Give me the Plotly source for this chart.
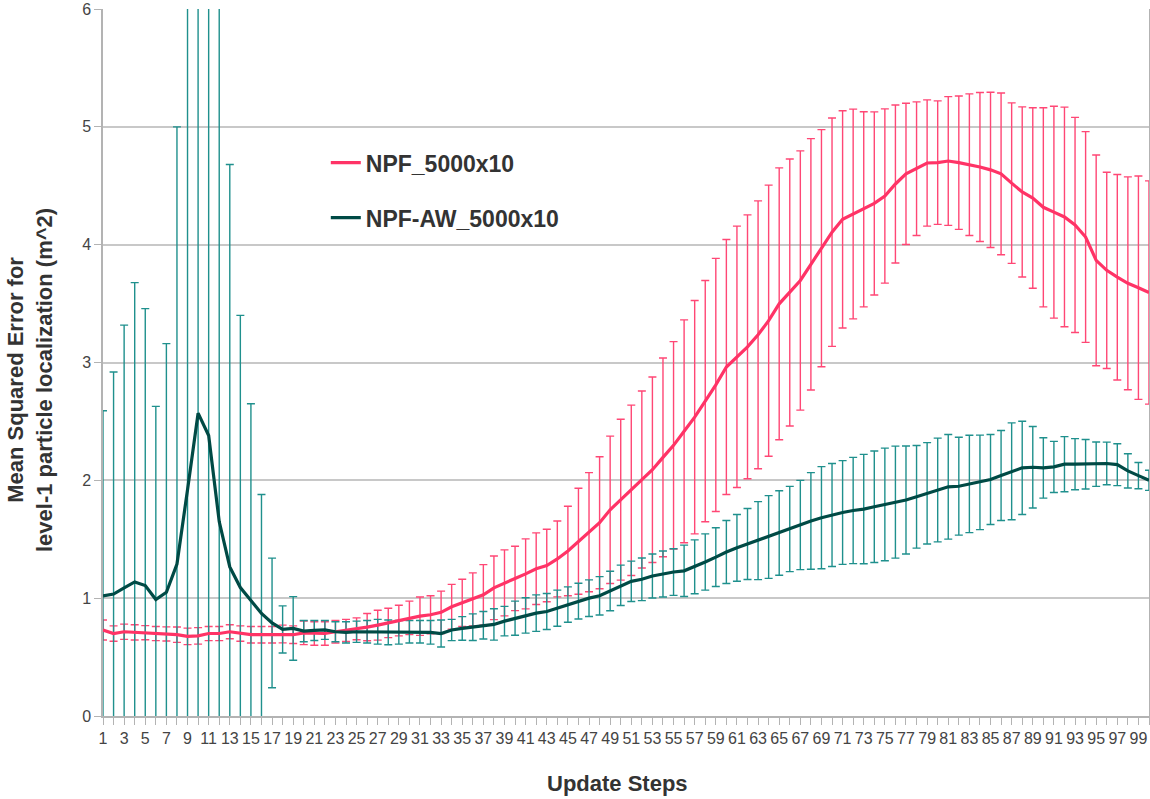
import plotly.graph_objects as go

steps = list(range(1, 101))

npf_mean = [0.73, 0.70, 0.715, 0.71, 0.707, 0.70, 0.696, 0.69, 0.676, 0.68,
            0.70, 0.70, 0.715, 0.70, 0.69, 0.69, 0.69, 0.696, 0.69, 0.706,
            0.70, 0.70, 0.715, 0.726, 0.74, 0.754, 0.771, 0.79, 0.81, 0.833,
            0.847, 0.859, 0.88, 0.927, 0.96, 0.99, 1.028, 1.088, 1.13, 1.167,
            1.206, 1.25, 1.277, 1.333, 1.40, 1.483, 1.56, 1.64, 1.75, 1.836,
            1.915, 2.007, 2.09, 2.195, 2.297, 2.416, 2.536, 2.672, 2.81, 2.962,
            3.048, 3.133, 3.235, 3.355, 3.498, 3.594, 3.696, 3.833, 3.97, 4.106,
            4.215, 4.26, 4.30, 4.35, 4.413, 4.515, 4.601, 4.645, 4.693, 4.696,
            4.71, 4.696, 4.679, 4.659, 4.635, 4.601, 4.522, 4.447, 4.396, 4.317,
            4.276, 4.235, 4.167, 4.065, 3.867, 3.782, 3.724, 3.672, 3.635, 3.594]

npf_std = [0.085, 0.065, 0.065, 0.065, 0.06, 0.06, 0.06, 0.065, 0.07, 0.07,
           0.06, 0.06, 0.06, 0.065, 0.07, 0.07, 0.07, 0.075, 0.075, 0.10,
           0.10, 0.10, 0.095, 0.094, 0.093, 0.116, 0.127, 0.125, 0.13, 0.142,
           0.163, 0.161, 0.18, 0.19, 0.2, 0.225, 0.257, 0.27, 0.28, 0.273,
           0.297, 0.304, 0.308, 0.322, 0.38, 0.45, 0.505, 0.56, 0.625, 0.683,
           0.723, 0.751, 0.787, 0.843, 0.88, 0.946, 0.99, 1.024, 1.074, 1.082,
           1.109, 1.12, 1.137, 1.15, 1.154, 1.133, 1.10, 1.067, 1.006, 0.969,
           0.922, 0.89, 0.828, 0.777, 0.739, 0.67, 0.599, 0.567, 0.536, 0.524,
           0.546, 0.566, 0.601, 0.632, 0.659, 0.686, 0.681, 0.722, 0.766, 0.845,
           0.899, 0.932, 0.913, 0.894, 0.894, 0.833, 0.872, 0.903, 0.948, 0.947]

aw_mean = [1.02, 1.035, 1.087, 1.138, 1.107, 0.988, 1.05, 1.29, 1.92, 2.57,
           2.38, 1.65, 1.265, 1.09, 0.98, 0.87, 0.79, 0.735, 0.743, 0.72,
           0.726, 0.73, 0.715, 0.71, 0.715, 0.715, 0.715, 0.71, 0.71, 0.715,
           0.715, 0.71, 0.70, 0.73, 0.743, 0.754, 0.77, 0.777, 0.805, 0.83,
           0.853, 0.873, 0.887, 0.915, 0.946, 0.975, 1.0, 1.02, 1.061, 1.109,
           1.143, 1.16, 1.188, 1.205, 1.222, 1.232, 1.266, 1.307, 1.348, 1.392,
           1.427, 1.46, 1.488, 1.519, 1.553, 1.587, 1.621, 1.655, 1.683, 1.706,
           1.727, 1.744, 1.756, 1.776, 1.795, 1.815, 1.833, 1.86, 1.89, 1.918,
           1.945, 1.95, 1.969, 1.983, 2.007, 2.041, 2.077, 2.106, 2.111, 2.105,
           2.114, 2.137, 2.137, 2.137, 2.137, 2.143, 2.133, 2.08, 2.04, 2.0]

aw_std = [1.57, 1.885, 2.23, 2.54, 2.35, 1.64, 2.11, 3.71, 4.6, 4.8,
          4.5, 4.8, 3.415, 2.31, 1.67, 1.01, 0.55, 0.2, 0.27, 0.09,
          0.085, 0.08, 0.085, 0.09, 0.09, 0.095, 0.105, 0.105, 0.1, 0.095,
          0.095, 0.1, 0.115, 0.09, 0.1, 0.113, 0.117, 0.133, 0.125, 0.145,
          0.15, 0.155, 0.153, 0.153, 0.15, 0.152, 0.155, 0.163, 0.168, 0.171,
          0.171, 0.181, 0.187, 0.195, 0.198, 0.218, 0.229, 0.239, 0.249, 0.267,
          0.283, 0.301, 0.331, 0.351, 0.358, 0.362, 0.379, 0.41, 0.433, 0.437,
          0.44, 0.451, 0.464, 0.473, 0.478, 0.475, 0.458, 0.435, 0.43, 0.44,
          0.444, 0.415, 0.413, 0.401, 0.382, 0.382, 0.411, 0.396, 0.346, 0.256,
          0.217, 0.234, 0.217, 0.21, 0.188, 0.181, 0.178, 0.145, 0.111, 0.085]

RED = "#FF3366"
RED_ERR = "#FF4775"
DARK = "#004A45"
TEAL_ERR = "#1F908D"

fig = go.Figure()

# error bars (drawn beneath the lines)
fig.add_trace(go.Scatter(
    x=steps, y=npf_mean, mode="markers", marker=dict(size=1, opacity=0),
    error_y=dict(type="data", array=npf_std, visible=True, color=RED_ERR,
                 thickness=1.4, width=4),
    showlegend=False, hoverinfo="skip"))
fig.add_trace(go.Scatter(
    x=steps, y=aw_mean, mode="markers", marker=dict(size=1, opacity=0),
    error_y=dict(type="data", array=aw_std, visible=True, color=TEAL_ERR,
                 thickness=1.4, width=4),
    showlegend=False, hoverinfo="skip"))

# mean lines
fig.add_trace(go.Scatter(
    x=steps, y=npf_mean, mode="lines", name="NPF_5000x10",
    line=dict(color=RED, width=3.2), legendgroup="a"))
fig.add_trace(go.Scatter(
    x=steps, y=aw_mean, mode="lines", name="NPF-AW_5000x10",
    line=dict(color=DARK, width=3.2), legendgroup="b"))

tick_text = [str(s) if s % 2 == 1 else "" for s in steps]

fig.update_layout(
    width=1150, height=799,
    margin=dict(l=103, r=1, t=9, b=83, autoexpand=False),
    paper_bgcolor="white", plot_bgcolor="white",
    font=dict(family="Liberation Sans, Arial, sans-serif", color="#444444"),
    showlegend=True,
    legend=dict(x=0.213, y=0.813, xanchor="left", yanchor="top",
                bgcolor="rgba(0,0,0,0)", tracegroupgap=22,
                font=dict(size=23, color="#333333",
                          family="Liberation Sans, Arial, sans-serif", weight="bold"),
                itemwidth=30),
    xaxis=dict(range=[1, 100], tickmode="array", tickvals=steps, ticktext=tick_text,
               ticks="outside", ticklen=7, tickcolor="#b3b3b3", tickwidth=1,
               showgrid=False, showline=True, linecolor="#b3b3b3", linewidth=1.5,
               tickfont=dict(size=16, color="#444444"), zeroline=False,
               automargin=False),
    yaxis=dict(range=[0, 6], dtick=1, ticks="outside", ticklen=7,
               tickcolor="#b3b3b3", showgrid=True, gridcolor="#c8c8c8",
               gridwidth=1.5, showline=True, linecolor="#b3b3b3", linewidth=1.5,
               mirror=True, zeroline=False, automargin=False,
               tickfont=dict(size=16, color="#444444")),
    annotations=[
        dict(text="<b>Update Steps</b>", xref="paper", yref="paper",
             x=0.4914, y=-0.096, xanchor="center", yanchor="middle",
             showarrow=False, font=dict(size=22, color="#333333")),
        dict(text="<b>Mean Squared Error for<br>level-1 particle localization (m^2)</b>",
             xref="paper", yref="paper", x=-0.0698, y=0.4752,
             xanchor="center", yanchor="middle", textangle=-90,
             showarrow=False, font=dict(size=22, color="#333333")),
    ],
)

fig.write_html(
    "out.html",
    config={"displayModeBar": False},
    post_script="document.body.style.margin='0';document.body.style.overflow='hidden';",
)
